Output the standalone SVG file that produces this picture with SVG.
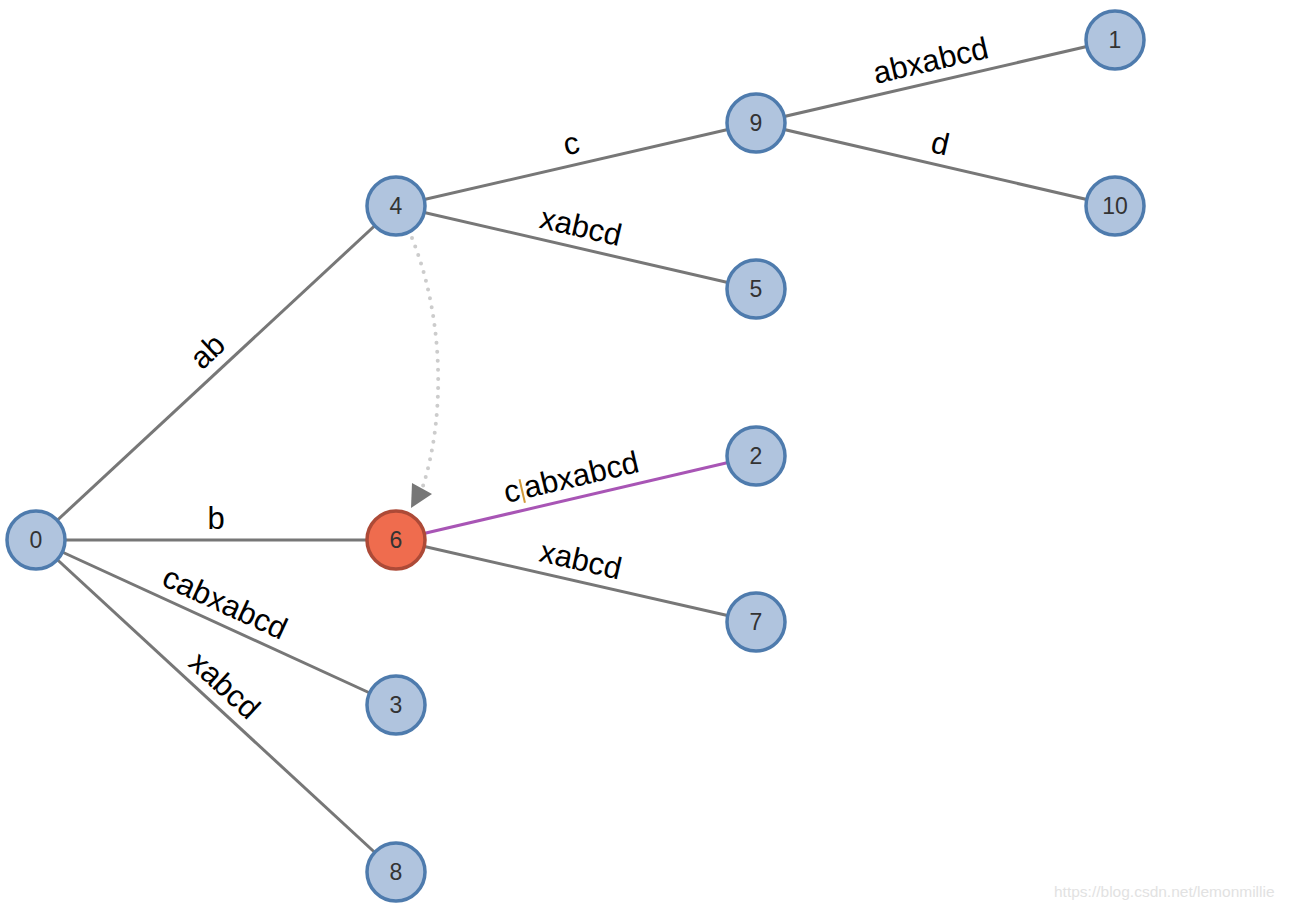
<svg xmlns="http://www.w3.org/2000/svg" width="1290" height="912" viewBox="0 0 1290 912">
<style>
.e{stroke:#777;stroke-width:3;fill:none}
.hl{stroke:#a855b5;stroke-width:3;fill:none}
.n circle{fill:#b0c4de;stroke:#4e7bad;stroke-width:3.5}
.n.act circle{fill:#ef6c4e;stroke:#ad4a37}
.n text{font-family:"Liberation Sans",Arial,sans-serif;font-size:23px;fill:#333;text-anchor:middle;dominant-baseline:central}
.l{font-family:"Liberation Sans",Arial,sans-serif;font-size:31px;fill:#000;text-anchor:middle}
.wm{font-family:"Liberation Sans",Arial,sans-serif;font-size:15.5px;fill:#e2e2e2}
</style>
<rect width="1290" height="912" fill="#fff"/>
<g id="connectors">
<line class="e" x1="36" y1="540" x2="396" y2="206"/>
<line class="e" x1="36" y1="540" x2="396" y2="540"/>
<line class="e" x1="36" y1="540" x2="396" y2="705"/>
<line class="e" x1="36" y1="540" x2="396" y2="872"/>
<line class="e" x1="396" y1="206" x2="756" y2="123"/>
<line class="e" x1="396" y1="206" x2="756" y2="289"/>
<line class="e" x1="756" y1="123" x2="1115" y2="40"/>
<line class="e" x1="756" y1="123" x2="1115" y2="206"/>
<line class="hl" x1="396" y1="540" x2="756" y2="456"/>
<line class="e" x1="396" y1="540" x2="756" y2="622"/>
<path d="M412,238 C445,320 445,420 422,489" fill="none" stroke="#ccc" stroke-width="4" stroke-linecap="round" stroke-dasharray="0 9"/>
<polygon points="412,483 432,494 411,508" fill="#777"/>
<g transform="translate(222,367) rotate(-42.86)"><text class="l" x="0" y="-11">ab</text></g>
<g transform="translate(216,540)"><text class="l" x="0" y="-11">b</text></g>
<g transform="translate(216,622.5) rotate(24.62)"><text class="l" x="0" y="-11">cabxabcd</text></g>
<g transform="translate(210,701) rotate(42.68)"><text class="l" x="0" y="-11">xabcd</text></g>
<g transform="translate(576,164.5) rotate(-12.98)"><text class="l" x="0" y="-11">c</text></g>
<g transform="translate(576,247.5) rotate(12.98)"><text class="l" x="0" y="-11">xabcd</text></g>
<g transform="translate(935.5,81.5) rotate(-13.02)"><text class="l" x="0" y="-11">abxabcd</text></g>
<g transform="translate(935.5,164.5) rotate(13.02)"><text class="l" x="0" y="-11">d</text></g>
<g transform="translate(576,498) rotate(-13.13)"><text class="l" x="0" y="-11">c<tspan dx="5">abxabcd</tspan></text><line x1="-50.8" y1="-31" x2="-50.8" y2="-7" stroke="#d19a3a" stroke-width="2"/></g>
<g transform="translate(576,581) rotate(12.83)"><text class="l" x="0" y="-11">xabcd</text></g>
</g>
<g id="node0" class="n"><circle cx="36" cy="540" r="29"/><text x="36" y="540">0</text></g>
<g id="node4" class="n"><circle cx="396" cy="206" r="29"/><text x="396" y="206">4</text></g>
<g id="node9" class="n"><circle cx="756" cy="123" r="29"/><text x="756" y="123">9</text></g>
<g id="node1" class="n"><circle cx="1115" cy="40" r="29"/><text x="1115" y="40">1</text></g>
<g id="node10" class="n"><circle cx="1115" cy="206" r="29"/><text x="1115" y="206">10</text></g>
<g id="node5" class="n"><circle cx="756" cy="289" r="29"/><text x="756" y="289">5</text></g>
<g id="node2" class="n"><circle cx="756" cy="456" r="29"/><text x="756" y="456">2</text></g>
<g id="node6" class="n act"><circle cx="396" cy="540" r="29"/><text x="396" y="540">6</text></g>
<g id="node7" class="n"><circle cx="756" cy="622" r="29"/><text x="756" y="622">7</text></g>
<g id="node3" class="n"><circle cx="396" cy="705" r="29"/><text x="396" y="705">3</text></g>
<g id="node8" class="n"><circle cx="396" cy="872" r="29"/><text x="396" y="872">8</text></g>
<text class="wm" x="1054" y="897">https://blog.csdn.net/lemonmillie</text>
</svg>
